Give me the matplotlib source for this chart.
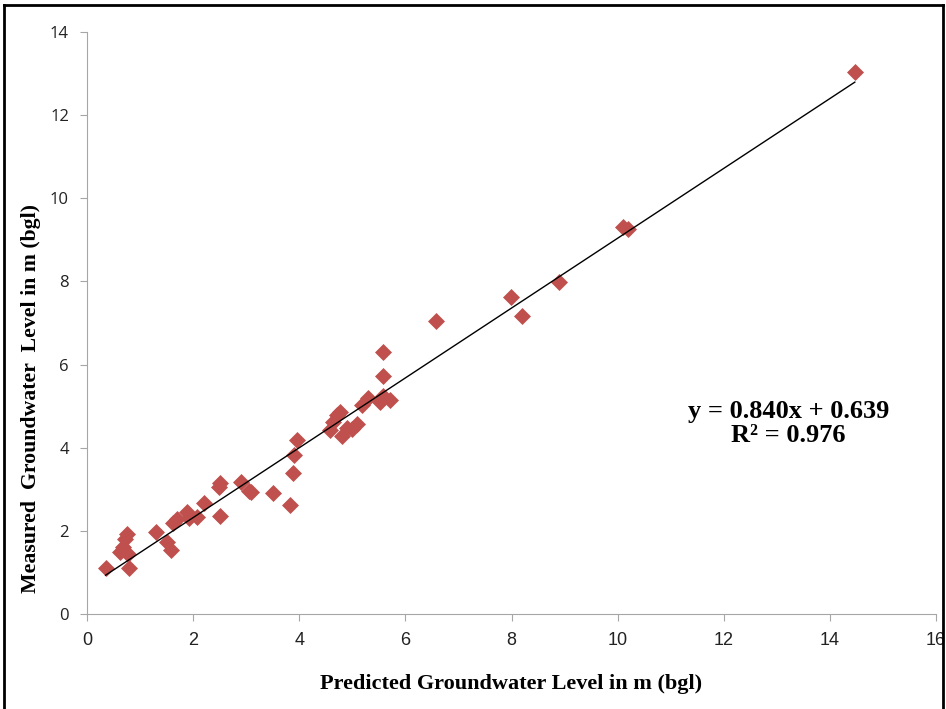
import matplotlib
matplotlib.use("Agg")
import matplotlib.pyplot as plt
from matplotlib.lines import Line2D
import numpy as np

predicted = [0.35, 0.62, 0.68, 0.72, 0.75, 0.78, 0.80,
             1.30, 1.50, 1.58, 1.62, 1.70, 1.88, 1.92, 2.08, 2.20,
             2.50, 2.48, 2.50, 2.90, 3.05, 3.10, 3.50, 3.83, 3.88, 3.90, 3.95,
             4.58, 4.64, 4.71, 4.77, 4.80, 4.90, 4.99, 5.09, 5.18, 5.30, 5.52,
             5.58, 5.71, 5.58, 5.58,
             6.58, 7.99, 8.20, 8.90, 10.10, 10.20, 14.47]
measured = [1.11, 1.48, 1.62, 1.80, 1.92, 1.45, 1.10,
            1.97, 1.72, 1.55, 2.18, 2.28, 2.45, 2.30, 2.33, 2.68,
            2.36, 3.05, 3.15, 3.18, 2.97, 2.93, 2.91, 2.62, 3.39, 3.83, 4.19,
            4.43, 4.62, 4.79, 4.86, 4.28, 4.47, 4.45, 4.57, 5.03, 5.20, 5.10,
            5.25, 5.15, 5.73, 6.30,
            7.04, 7.62, 7.17, 7.98, 9.32, 9.27, 13.04]

slope, intercept, r2 = 0.840, 0.639, 0.976
x_ticks = [0, 2, 4, 6, 8, 10, 12, 14, 16]
y_ticks = [0, 2, 4, 6, 8, 10, 12, 14]

fig = plt.figure(figsize=(9.46, 7.09), dpi=100)
ax = fig.add_axes([87/946, (709-614)/709, (936-87)/946, (614-32)/709])

ax.scatter(predicted, measured, marker='D', s=75, color='#C0504D', zorder=3, linewidths=0)
xs = np.array([min(predicted), max(predicted)])
ax.plot(xs, slope*xs + intercept, color='black', lw=1.0, zorder=4)

ax.set_xlim(0, 16)
ax.set_ylim(0, 14)
ax.set_xticks(x_ticks)
ax.set_yticks(y_ticks)
ax.set_xticklabels([str(t) for t in x_ticks], family=['Liberation Sans Narrow', 'Liberation Sans'], fontsize=13)
ax.set_yticklabels([str(t) for t in y_ticks], family='Open Sans', fontsize=12)
for s in ['top', 'right']:
    ax.spines[s].set_visible(False)
for s in ['left', 'bottom']:
    ax.spines[s].set_color('#A6A6A6')
ax.tick_params(axis='both', direction='out', length=5, color='#A6A6A6', labelcolor='#222222')
ax.tick_params(axis='x', pad=8)
ax.tick_params(axis='y', pad=8)

ax.set_xlabel('Predicted Groundwater Level in m (bgl)', family='Liberation Serif',
              fontweight='bold', fontsize=16)
ax.xaxis.set_label_coords(0.5, -0.103)
ax.set_ylabel('Measured  Groundwater  Level in m (bgl)', family='Liberation Serif',
              fontweight='bold', fontsize=15.7)
ax.yaxis.set_label_coords(-0.054, 0.371)

ax.text(0.826, 0.328, f'y = {slope:.3f}x + {intercept:.3f}\nR² = {r2:.3f}', transform=ax.transAxes,
        family='Liberation Serif', fontweight='bold', fontsize=19, ha='center', va='center',
        linespacing=1.05)

# outer frame
for (x0, y0, x1, y1) in [(4, 0, 4, 704), (4, 704, 943, 704), (943, 0, 943, 704)]:
    fig.add_artist(Line2D([x0/946, x1/946], [y0/709, y1/709], color='black', lw=2))

fig.savefig('out.png', dpi=100)
